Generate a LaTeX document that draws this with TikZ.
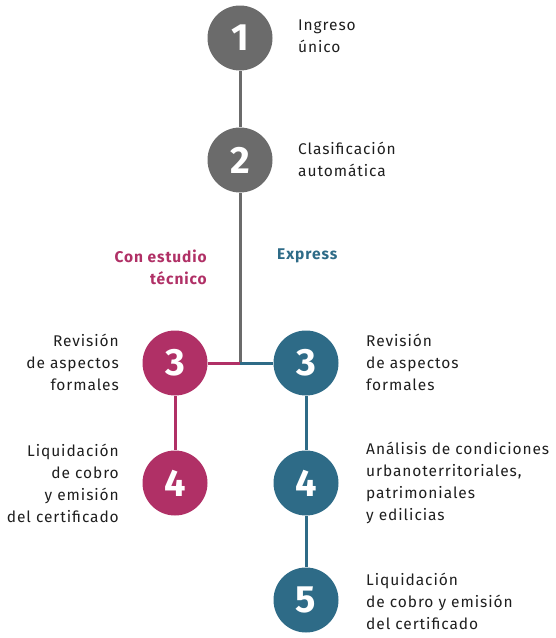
\documentclass[tikz,border=0pt]{standalone}
\usepackage{fontspec}
\setmainfont[LetterSpace=6]{Fira Sans}
\newfontfamily\digitfont{Fira Sans}
\definecolor{StepGray}{HTML}{6B6B6B}
\definecolor{StepPink}{HTML}{B03066}
\definecolor{StepBlue}{HTML}{2E6B87}
\definecolor{TextDark}{HTML}{1E1E1E}
\usetikzlibrary{positioning}

\begin{document}
\begin{tikzpicture}[x=1pt, y=-1pt,
  num/.style={circle, fill=#1, minimum size=65pt, inner sep=0pt, text=white,
              font=\digitfont\fontsize{38}{38}\selectfont\bfseries},
  link/.style={line width=3pt, draw=#1},
  txtl/.style={anchor=west, align=left, text=TextDark, inner sep=0pt,
               font=\fontsize{15.5}{22}\selectfont},
  txtr/.style={txtl, anchor=east, align=right},
  head/.style={inner sep=0pt, text=#1, font=\fontsize{15.5}{22}\selectfont\bfseries},
]
  \useasboundingbox (0,0) rectangle (555,638);

  % common trunk
  \node[num=StepGray] (s1) at (240,38) {1};
  \node[num=StepGray] (s2) at (240,160) {2};
  \coordinate (fork) at (240,363);

  % branch with technical study
  \node[num=StepPink] (a3) at (175,363) {3};
  \node[num=StepPink] (a4) at (175,483) {4};

  % express branch
  \node[num=StepBlue] (b3) at (306,363) {3};
  \node[num=StepBlue] (b4) at (306,483) {4};
  \node[num=StepBlue] (b5) at (306,600) {5};

  \draw[link=StepGray] (s1) -- (s2);
  \draw[link=StepGray] (s2) -- ([yshift=1.5pt]fork);
  \draw[link=StepPink] (fork) -- (a3);
  \draw[link=StepBlue] (fork) -- (b3);
  \draw[link=StepPink] (a3) -- (a4);
  \draw[link=StepBlue] (b3) -- (b4);
  \draw[link=StepBlue] (b4) -- (b5);

  % labels
  \node[txtl] (t1) at (298,36) {Ingreso\\único};
  \node[txtl] (t2) at (298,159) {Clasificación\\automática};
  \node[head=StepPink, anchor=east, align=right] (ha) at (207,267) {Con estudio\\técnico};
  \node[head=StepBlue, anchor=west, align=left] (hb) at (277,256) {Express};
  \node[txtr] (ta3) at (119,362) {Revisión\\de aspectos\\formales};
  \node[txtr] (ta4) at (119,483) {Liquidación\\de cobro\\y emisión\\del certificado};
  \node[txtl] (tb3) at (366,362) {Revisión\\de aspectos\\formales};
  \node[txtl] (tb4) at (366,483) {Análisis de condiciones\\urbanoterritoriales,\\patrimoniales\\y edilicias};
  \node[txtl] (tb5) at (366,601) {Liquidación\\de cobro y emisión\\del certificado};
\end{tikzpicture}
\end{document}
